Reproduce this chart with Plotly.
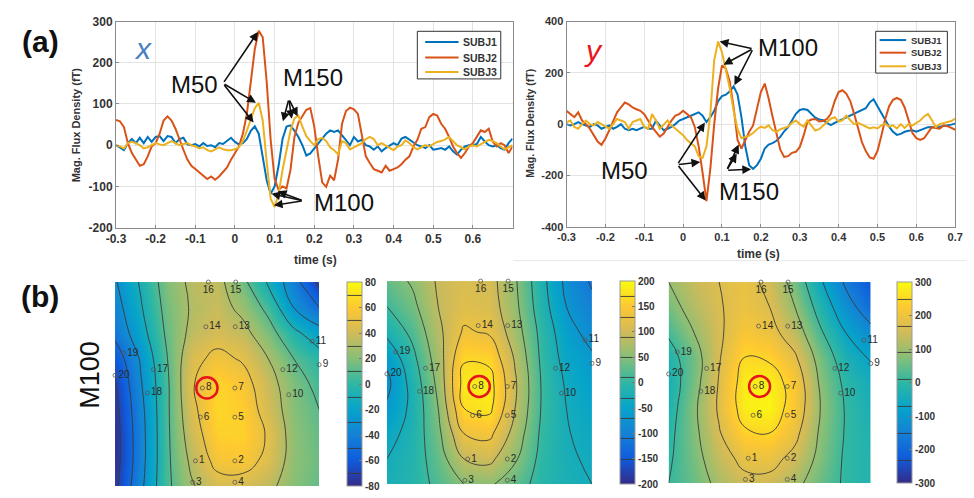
import numpy as np
import plotly.graph_objects as go

# ---------------- data ----------------
TIME = np.round(np.arange(-0.30, 0.7001, 0.01), 2)  # 101 samples

SUBJ1_X = [0, -5, -12, 5, 15, 5, 18, 5, 20, 8,
           20, 22, 10, 22, 20, 5, 15, 18, 2, 0,
           3, -3, 5, -2, 0, -5, 5, 3, 10, 18,
           8, 2, 5, 15, 35, 46, 28, -25, -85, -118,
           -100, -50, 15, 45, 48, 35, 20, 0, -25, -20,
           -8, 5, 16, 28, 36, 32, 36, 24, 13, 0,
           20, 9, 13, 0, -3, -11, -3, -15, -7, 0,
           5, 0, 16, 20, 13, 5, 0, -3, -7, 0,
           -11, -9, -7, -11, -3, -15, -23, -11, -3, 0,
           0, 3, 20, 9, 0, -3, 0, -7, -11, 5, 16]
SUBJ2_X = [61, 58, 44, 5, -19, -35, -50, -46, -27, -3,
           5, 28, 60, 70, 60, 40, 13, -11, -35, -50,
           -58, -66, -74, -82, -76, -84, -76, -66, -54, -35,
           -19, -3, 28, 76, 154, 233, 278, 262, 154, 13,
           -82, -108, -100, -105, -60, 20, 55, 72, 86, 90,
           45, -27, -90, -101, -74, -85, -35, 52, 83, 91,
           87, 76, 28, -27, -43, -58, -62, -66, -50, -62,
           -58, -54, -46, -35, -27, -3, 13, 40, 44, 68,
           76, 72, 52, 40, 20, -3, -19, -31, -19, -3,
           5, 20, 36, 32, 40, 9, -3, 5, 0, -19, -3]
SUBJ3_X = [0, -3, -8, 5, 8, 5, 0, -8, -5, 0,
           5, 2, 0, 5, 10, 5, 0, 3, 5, 0,
           -3, -8, -5, -12, -15, -10, -5, -10, -12, -12,
           -10, -5, 10, 35, 60, 90, 103, 60, -40, -130,
           -150, -120, -60, -10, 35, 65, 72, 45, 22, 10,
           0, 15, 18, 10, -5, -12, -22, 10, 5, -10,
           -5, 0, 5, 15, 20, 15, 0, 5, 0, -5,
           -12, -3, 0, 12, 5, -5, -10, -5, 0, -3,
           3, 8, 10, 14, 20, 10, 0, -5, -10, -3,
           0, -3, 2, 8, 13, 10, 5, -3, -10, -5, 0]

SUBJ1_Y = [0, -5, 0, 8, 0, -5, -11, 0, -5, -18,
           -11, -5, -18, -11, 0, -18, -24, -18, -24, -18,
           -11, -18, -18, 14, -5, -24, -18, -11, 0, 14,
           20, 27, 33, 39, 46, 33, 8, 27, 52, 90,
           109, 115, 128, 147, 115, 27, -87, -160, -175, -160,
           -135, -95, -80, -74, -65, -50, -28, -12, 15, 40,
           55, 59, 55, 40, 25, 18, 15, 5, -4, 5,
           12, 18, 25, 35, 40, 48, 55, 62, 85, 97,
           70, 42, 15, -10, -30, -42, -38, -30, -26, -24,
           -30, -24, -17, -12, -11, -14, -10, -8, -5, -2, 2]
SUBJ2_Y = [52, 39, 27, 46, 14, 0, -18, -43, -68, -81,
           -56, -24, 14, 46, 65, 84, 77, 65, 58, 52,
           39, 14, -11, -30, -49, -37, -11, 14, 33, 39,
           52, 39, 27, -11, -87, -189, -300, -175, 0, 140,
           229, 216, 166, 65, -62, -95, -60, -30, -5, 55,
           125, 158, 100, 30, -40, -100, -128, -125, -112, -108,
           -90, -45, 10, 18, 20, 10, 12, 20, 40, 90,
           125, 132, 118, 90, 40, -20, -70, -105, -130, -135,
           -105, -45, 20, 70, 95, 102, 95, 65, 10, -35,
           -55, -62, -55, -35, -12, -15, -18, -5, -8, -15, -22]
SUBJ3_Y = [8, 14, -11, -18, 0, 14, 0, -5, 8, 0,
           -11, -18, 0, 20, 14, 8, -18, 8, 14, 20,
           -11, -18, 39, 14, -18, 0, 14, -5, -18, -30,
           -43, -62, -75, -87, -125, -132, -87, 39, 250, 322,
           280, 216, 140, 52, -20, -55, -50, -45, -35, -20,
           -10, -15, -5, -24, -30, -20, -15, -10, 5, 14,
           0, -10, 14, -5, -25, -20, -5, 10, 21, 27,
           10, 15, 33, 15, 0, 5, -2, -10, -17, -12,
           -17, -5, 2, -10, -5, -17, 0, -15, 0, -5,
           5, 14, 30, 40, 15, -11, 0, 5, 8, 12, 21]

SUBJECTS = ["SUBJ1", "SUBJ2", "SUBJ3"]
X_TICKS_LEFT = [-0.3, -0.2, -0.1, 0, 0.1, 0.2, 0.3, 0.4, 0.5, 0.6]
X_TICKS_RIGHT = [-0.3, -0.2, -0.1, 0, 0.1, 0.2, 0.3, 0.4, 0.5, 0.6, 0.7]
Y_TICKS_LEFT = [-200, -100, 0, 100, 200, 300]
Y_TICKS_RIGHT = [-400, -200, 0, 200, 400]

# topography grids (rows bottom->top, cols left->right), normalized sensor space
GRID = [0, 0.125, 0.25, 0.375, 0.5, 0.625, 0.75, 0.875, 1]
MAP1 = [[-75, -35, 5, 28, 42, 42, 35, 20, 12],
        [-78, -38, 5, 34, 56, 58, 45, 22, 14],
        [-78, -38, 5, 40, 63, 64, 48, 22, 12],
        [-76, -36, 5, 45, 66, 62, 42, 20, 10],
        [-72, -32, 5, 48, 65, 58, 38, 18, 5],
        [-62, -28, 8, 44, 55, 48, 30, 10, -2],
        [-45, -18, 12, 35, 42, 36, 18, -5, -22],
        [-38, -12, 15, 32, 38, 25, 5, -30, -50],
        [-32, -8, 18, 34, 36, 15, -12, -42, -75]]
MAP2 = [[-25, -10, 20, 50, 55, 30, -5, -22, -30],
        [-30, -12, 30, 90, 100, 55, 0, -25, -35],
        [-45, -15, 40, 130, 140, 75, 5, -28, -40],
        [-65, -20, 50, 170, 180, 90, 10, -30, -48],
        [-80, -15, 60, 185, 185, 95, 10, -35, -55],
        [-60, 0, 70, 165, 160, 85, 5, -45, -65],
        [-20, 20, 80, 135, 125, 70, 0, -55, -85],
        [10, 40, 90, 115, 110, 60, -10, -70, -100],
        [30, 55, 95, 110, 105, 55, -15, -80, -115]]
MAP3 = [[10, 50, 110, 150, 150, 110, 50, 0, -20],
        [0, 60, 140, 190, 195, 150, 70, 0, -20],
        [-10, 70, 165, 240, 250, 190, 80, 5, -25],
        [-25, 75, 180, 280, 290, 220, 90, 5, -35],
        [-35, 60, 175, 280, 285, 220, 80, -5, -45],
        [-20, 55, 165, 250, 240, 180, 60, -30, -75],
        [20, 90, 160, 215, 195, 130, 20, -70, -130],
        [60, 120, 165, 195, 170, 90, -20, -120, -190],
        [90, 140, 170, 190, 155, 60, -60, -160, -230]]
MAP_LIMITS = [80, 200, 300]
MAP_TICKSTEP = [20, 50, 100]
MAP_CONTOUR = [(-70, 70, 20), (-150, 170, 40), (-230, 250, 80)]

SENSOR_ID = ["1", "2", "3", "4", "5", "6", "7", "8", "9", "10",
             "11", "12", "13", "14", "15", "16", "17", "18", "19", "20"]
SENSOR_X = [0.394, 0.587, 0.380, 0.587, 0.587, 0.418, 0.587, 0.428, 1.0, 0.851,
            0.966, 0.822, 0.589, 0.445, 0.591, 0.457, 0.188, 0.159, 0.043, 0.0]
SENSOR_Y = [0.124, 0.124, 0.019, 0.019, 0.338, 0.338, 0.481, 0.481, 0.595, 0.448,
            0.710, 0.571, 0.781, 0.781, 1.0, 1.0, 0.571, 0.457, 0.652, 0.543]
MARKED_SENSOR = "8"

# ---------------- style ----------------
W, H = 974, 498
COLORS = ["#0072BD", "#D95319", "#EDB120"]
PARULA = [[0.0, "#352a87"], [0.125, "#0f5cdd"], [0.25, "#1481d6"], [0.375, "#06a4ca"],
          [0.5, "#2eb7a4"], [0.625, "#87bf77"], [0.75, "#d1bb59"], [0.875, "#fec832"],
          [1.0, "#f9fb0e"]]
FONT = "Arial, Liberation Sans, sans-serif"
TXT = "#333333"


def px_x(p):
    return p / W


def px_y(p):
    return 1 - p / H


def fmt(v):
    return "%g" % v


fig = go.Figure()

# line traces
for i, name in enumerate(SUBJECTS):
    fig.add_trace(go.Scatter(x=TIME, y=[SUBJ1_X, SUBJ2_X, SUBJ3_X][i], mode="lines", name=name,
                             line=dict(color=COLORS[i], width=2), xaxis="x", yaxis="y",
                             showlegend=False, hoverinfo="skip"))
for i, name in enumerate(SUBJECTS):
    fig.add_trace(go.Scatter(x=TIME, y=[SUBJ1_Y, SUBJ2_Y, SUBJ3_Y][i], mode="lines", name=name,
                             line=dict(color=COLORS[i], width=2), xaxis="x2", yaxis="y2",
                             showlegend=False, hoverinfo="skip"))

# topographic maps
map_dom_x = [(107, 315), (384, 593), (671, 877)]
map_dom_y = [(283, 493), (282, 491), (283, 490)]
cbar_x = [343, 621, 904]
maps = [MAP1, MAP2, MAP3]
for k in range(3):
    lim = MAP_LIMITS[k]
    step = MAP_TICKSTEP[k]
    tv = list(range(-lim, lim + 1, step))
    s, e, sz = MAP_CONTOUR[k]
    y0, y1 = map_dom_y[k]
    fig.add_trace(go.Contour(
        x=GRID, y=GRID, z=maps[k], xaxis="x%d" % (k + 3), yaxis="y%d" % (k + 3),
        colorscale=PARULA, zmin=-lim, zmax=lim, zauto=False,
        contours=dict(start=s, end=e, size=sz, coloring="heatmap", showlabels=False),
        line=dict(color="#3a3a3a", width=0.9, smoothing=1.3),
        hoverinfo="skip",
        colorbar=dict(x=px_x(cbar_x[k]), xanchor="left", xpad=0, ypad=0,
                      y=px_y((y0 + y1) / 2), yanchor="middle", len=(y1 - y0) / H,
                      lenmode="fraction", thickness=15, thicknessmode="pixels",
                      outlinewidth=1, outlinecolor="#9a9a9a",
                      tickvals=tv, ticktext=[fmt(v) for v in tv], ticks="inside", ticklen=3,
                      tickcolor="#777", tickfont=dict(family=FONT, size=10, color=TXT, weight="bold"))))
    # sensors
    tpos = ["bottom center" if yy >= 1 else "middle right" for yy in SENSOR_Y]
    fig.add_trace(go.Scatter(
        x=SENSOR_X, y=SENSOR_Y, mode="markers+text", text=SENSOR_ID, textposition=tpos,
        marker=dict(symbol="circle-open", size=4, color="#555", line=dict(width=0.8)),
        textfont=dict(family=FONT, size=10, color="#2a2a2a"),
        xaxis="x%d" % (k + 3), yaxis="y%d" % (k + 3), cliponaxis=False,
        showlegend=False, hoverinfo="skip"))
    mi = SENSOR_ID.index(MARKED_SENSOR)
    cx, cy = SENSOR_X[mi] + 0.022, SENSOR_Y[mi]
    fig.add_shape(type="circle", xref="x%d" % (k + 3), yref="y%d" % (k + 3),
                  x0=cx - 0.052, x1=cx + 0.052, y0=cy - 0.052, y1=cy + 0.052,
                  line=dict(color="#e8141c", width=2.5))

axis_common = dict(showgrid=True, gridcolor="#e3e3e3", gridwidth=1, zeroline=False,
                   showline=True, linecolor="#8a8a8a", linewidth=1, mirror=True,
                   ticks="inside", ticklen=3, tickcolor="#8a8a8a")
layout = dict(
    width=W, height=H, margin=dict(l=0, r=0, t=0, b=0), autosize=False,
    paper_bgcolor="white", plot_bgcolor="white", showlegend=False,
    font=dict(family=FONT, color=TXT),
    xaxis=dict(domain=[px_x(108), px_x(512)], range=[-0.3, 0.7], anchor="y",
               tickvals=X_TICKS_LEFT, ticktext=[fmt(v) for v in X_TICKS_LEFT],
               tickfont=dict(size=12, weight="bold", color=TXT), **axis_common),
    yaxis=dict(domain=[px_y(227), px_y(15)], range=[-200, 300], anchor="x",
               tickvals=Y_TICKS_LEFT, ticktext=[fmt(v) for v in Y_TICKS_LEFT],
               tickfont=dict(size=12, weight="bold", color=TXT), **axis_common),
    xaxis2=dict(domain=[px_x(567), px_x(963)], range=[-0.3, 0.7], anchor="y2",
                tickvals=X_TICKS_RIGHT, ticktext=[fmt(v) for v in X_TICKS_RIGHT],
                tickfont=dict(size=11, weight="bold", color=TXT), **axis_common),
    yaxis2=dict(domain=[px_y(226), px_y(15)], range=[-400, 400], anchor="x2",
                tickvals=Y_TICKS_RIGHT, ticktext=[fmt(v) for v in Y_TICKS_RIGHT],
                tickfont=dict(size=11, weight="bold", color=TXT), **axis_common),
)
for k in range(3):
    x0, x1 = map_dom_x[k]
    y0, y1 = map_dom_y[k]
    layout["xaxis%d" % (k + 3)] = dict(domain=[px_x(x0), px_x(x1)], range=[0, 1], visible=False,
                                       anchor="y%d" % (k + 3))
    layout["yaxis%d" % (k + 3)] = dict(domain=[px_y(y1), px_y(y0)], range=[0, 1], visible=False,
                                       anchor="x%d" % (k + 3))
fig.update_layout(**layout)

# ---------------- annotations ----------------
ann = []


def label(text, x, y, xref, yref, size, **kw):
    d = dict(text=text, x=x, y=y, xref=xref, yref=yref, showarrow=False,
             font=dict(family=FONT, size=size, color=kw.pop("color", "#111")),
             xanchor="center", yanchor="middle")
    d.update(kw)
    ann.append(d)


def arrow(xh, yh, xt, yt, xa, ya):
    ann.append(dict(x=xh, y=yh, ax=xt, ay=yt, xref=xa, yref=ya, axref=xa, ayref=ya,
                    text="", showarrow=True, arrowhead=2, arrowsize=1.1, arrowwidth=1.6,
                    arrowcolor="#111"))


# panel (a) left
label("M50", -0.102, 147, "x", "y", 24)
for hx, hy in [(0.058, 275), (0.053, 103), (0.047, 55)]:
    arrow(hx, hy, -0.03, 150, "x", "y")
label("M150", 0.198, 165, "x", "y", 24)
for hx, hy in [(0.121, 58), (0.143, 64), (0.158, 70)]:
    arrow(hx, hy, 0.136, 112, "x", "y")
label("M100", 0.276, -139, "x", "y", 24)
for hx, hy in [(0.092, -118), (0.108, -112), (0.098, -146)]:
    arrow(hx, hy, 0.172, -135, "x", "y")
# panel (a) right
label("M100", 0.27, 298, "x2", "y2", 24)
for hx, hy in [(0.094, 322), (0.104, 232), (0.132, 152)]:
    arrow(hx, hy, 0.18, 294, "x2", "y2")
label("M50", -0.15, -180, "x2", "y2", 24)
for hx, hy in [(0.056, 6), (0.044, -148), (0.058, -298)]:
    arrow(hx, hy, -0.015, -158, "x2", "y2")
label("M150", 0.17, -264, "x2", "y2", 24)
for hx, hy in [(0.143, -80), (0.138, -115), (0.175, -176)]:
    arrow(hx, hy, 0.112, -180, "x2", "y2")

label("<i>x</i>", px_x(135), px_y(43), "paper", "paper", 30, color="#4a7fc1")
label("<i>y</i>", px_x(594), px_y(45), "paper", "paper", 30, color="#e8161b")
label("<b>(a)</b>", px_x(31), px_y(35), "paper", "paper", 30)
label("<b>(b)</b>", px_x(31), px_y(298), "paper", "paper", 30)
label("M100", px_x(82), px_y(378), "paper", "paper", 27, textangle=-90)
label("<b>Mag. Flux Density (fT)</b>", px_x(67), px_y(121), "paper", "paper", 11,
      textangle=-90, color=TXT)
label("<b>Mag. Flux Density (fT)</b>", px_x(529), px_y(120), "paper", "paper", 10.5,
      textangle=-90, color=TXT)
label("<b>time (s)</b>", px_x(311), px_y(260), "paper", "paper", 12, color=TXT)
label("<b>time (s)</b>", px_x(763), px_y(254), "paper", "paper", 12, color=TXT)

# legends (drawn compactly to match the boxed MATLAB legend)
legend_boxes = [dict(x0=415, x1=500, y0=25, y1=74, lx0=423, lx1=457, tx=460, rows=[36, 52, 67], fs=10.5),
                dict(x0=882, x1=955, y0=25, y1=68, lx0=886, lx1=913, tx=916, rows=[34, 47, 61], fs=9.5)]
for lb in legend_boxes:
    fig.add_shape(type="rect", xref="paper", yref="paper", x0=px_x(lb["x0"]), x1=px_x(lb["x1"]),
                  y0=px_y(lb["y1"]), y1=px_y(lb["y0"]), line=dict(color="#333", width=1),
                  fillcolor="white", layer="above")
    for i, name in enumerate(SUBJECTS):
        yy = px_y(lb["rows"][i])
        fig.add_shape(type="line", xref="paper", yref="paper", x0=px_x(lb["lx0"]),
                      x1=px_x(lb["lx1"]), y0=yy, y1=yy, line=dict(color=COLORS[i], width=2),
                      layer="above")
        ann.append(dict(text="<b>%s</b>" % name, x=px_x(lb["tx"]), y=yy, xref="paper", yref="paper",
                        showarrow=False, xanchor="left", yanchor="middle",
                        font=dict(family=FONT, size=lb["fs"], color=TXT)))

fig.update_layout(annotations=ann)
fig.add_shape(type="line", xref="paper", yref="paper", x0=px_x(513), x1=1, y0=px_y(261),
              y1=px_y(261), line=dict(color="#e6e6e6", width=1))

fig.write_html("out.html")
